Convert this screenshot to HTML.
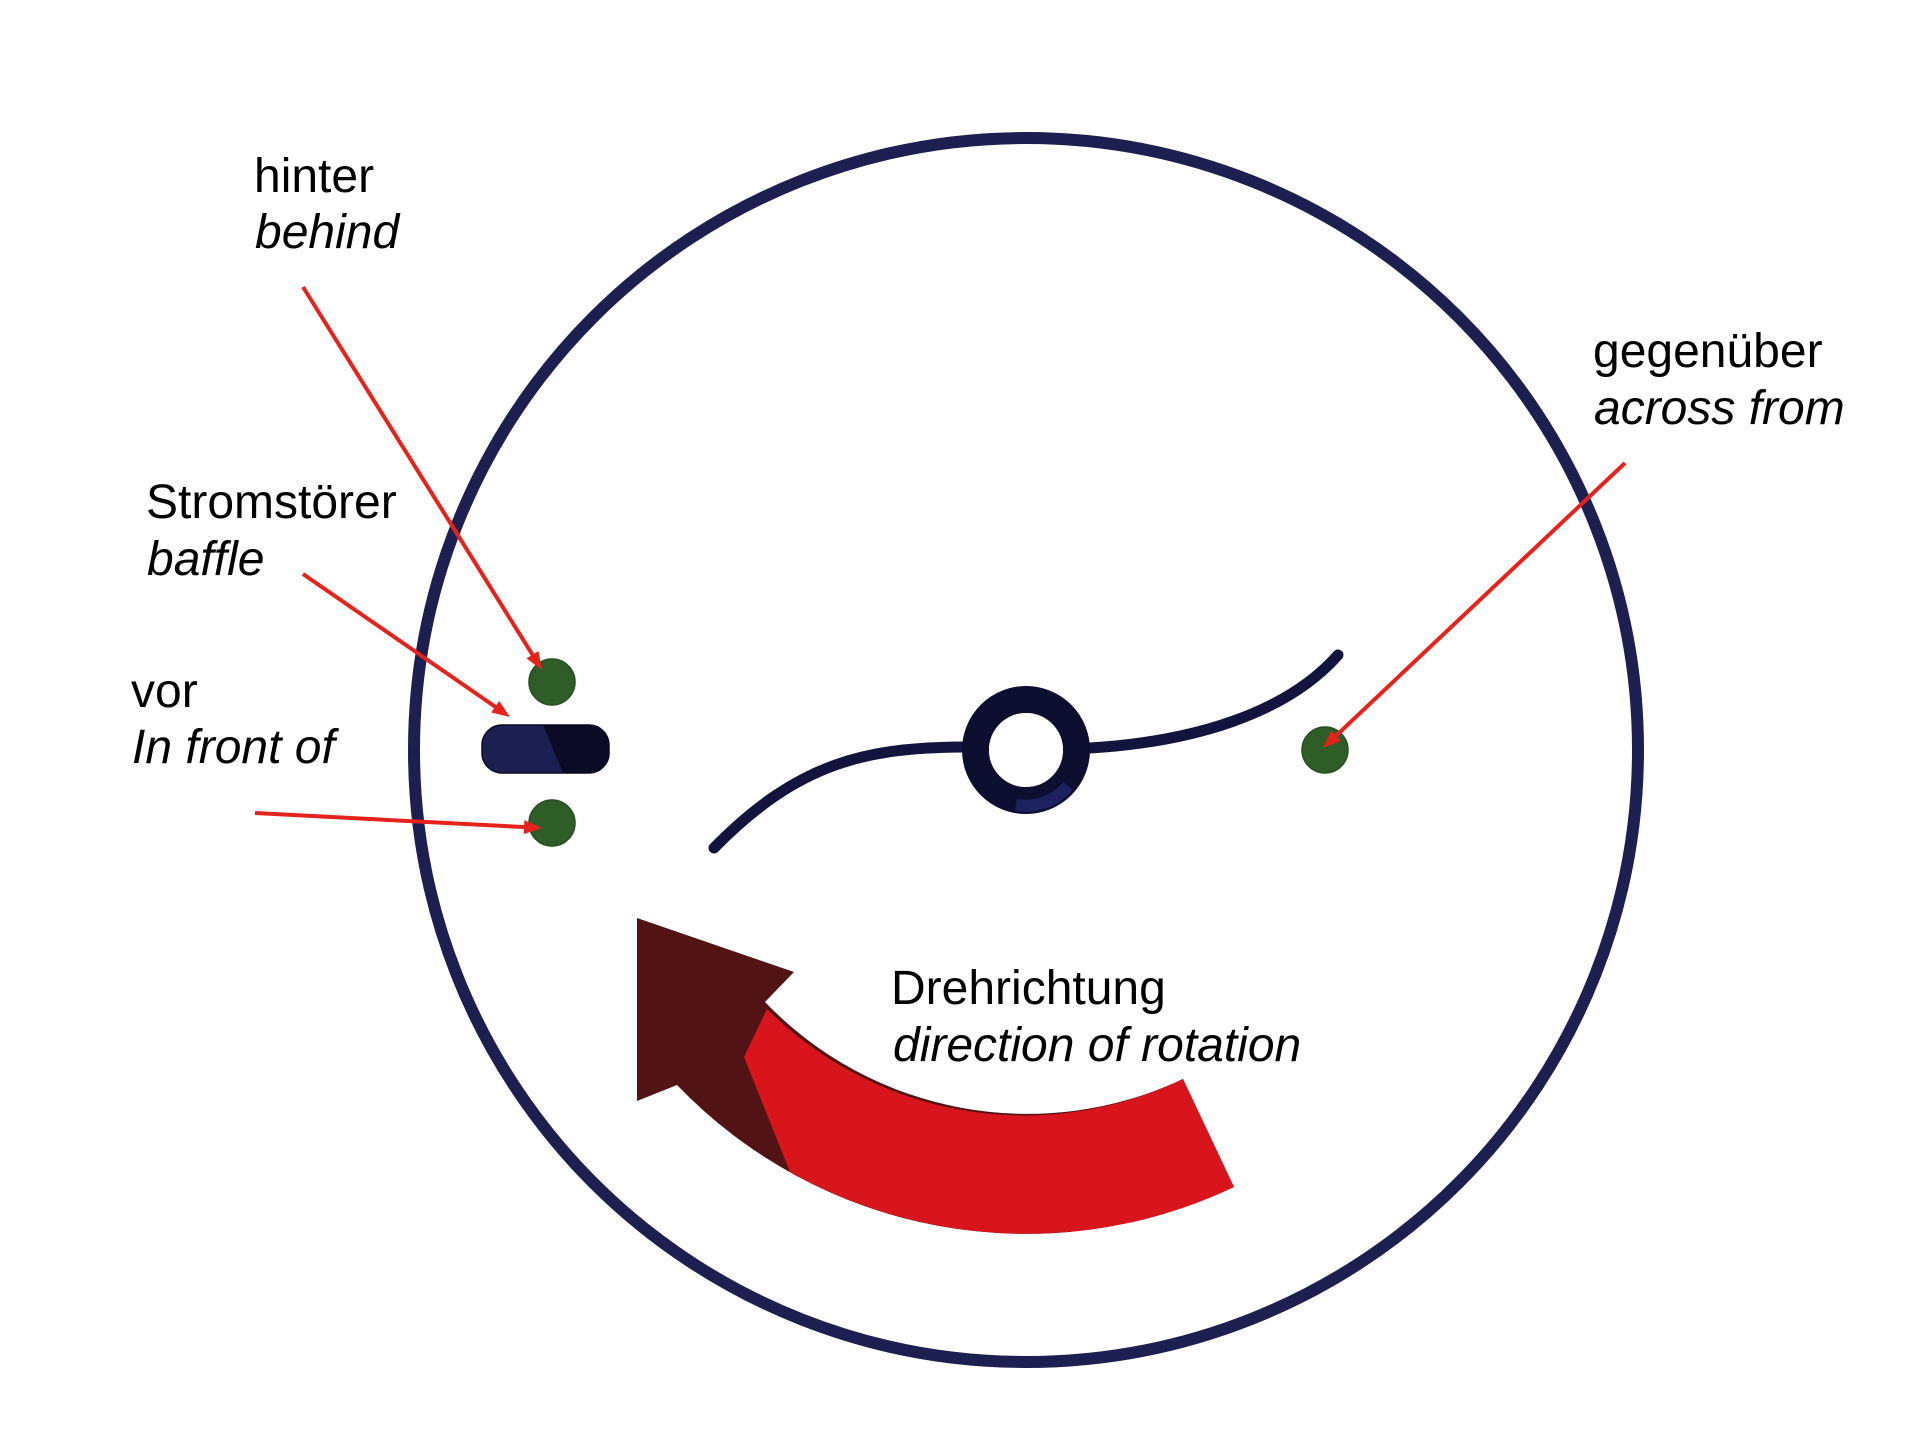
<!DOCTYPE html>
<html>
<head>
<meta charset="utf-8">
<style>
  html,body{margin:0;padding:0;background:#fff;}
  svg{display:block;}
  text{font-family:"Liberation Sans", Arial, sans-serif;font-size:48px;fill:#000;}
  .i{font-style:italic;}
</style>
</head>
<body>
<svg width="1920" height="1435" viewBox="0 0 1920 1435" xmlns="http://www.w3.org/2000/svg">
  <rect width="1920" height="1435" fill="#fff"/>

  <!-- outer vessel -->
  <circle cx="1026" cy="750" r="612" fill="none" stroke="#1c1f50" stroke-width="12"/>

  <!-- rotation arrow -->
  <path d="M 637 918 L 794 972 L 765 1002 A 364 364 0 0 0 1183 1079 L 1234 1187 A 484 484 0 0 1 677 1085 L 637 1101 Z" fill="#521314"/>
  <path d="M 767 1009 A 364 364 0 0 0 1183 1079 L 1234 1187 A 484 484 0 0 1 790 1172 L 744 1057 Z" fill="#d8151c"/>

  <!-- impeller arms -->
  <path d="M 962 747 C 870 748 800 760 714 848" fill="none" stroke="#13143e" stroke-width="11" stroke-linecap="round"/>
  <path d="M 1090 748 C 1190 742 1285 715 1338 655" fill="none" stroke="#13143e" stroke-width="11" stroke-linecap="round"/>

  <!-- hub ring -->
  <circle cx="1026" cy="750" r="50.5" fill="none" stroke="#0d0e30" stroke-width="27"/>
  <path d="M 1068 786 A 56 56 0 0 1 1016 805" fill="none" stroke="#242870" stroke-width="12" opacity="0.75"/>
  <circle cx="1026" cy="750" r="37" fill="#fff"/>

  <!-- baffle -->
  <defs>
    <clipPath id="bc"><rect x="482" y="725" width="127" height="48" rx="20" ry="20"/></clipPath>
  </defs>
  <rect x="482" y="725" width="127" height="48" rx="20" ry="20" fill="#1c2050"/>
  <polygon points="543,725 615,725 615,773 563,773" fill="#0b0b26" clip-path="url(#bc)"/>
  <rect x="482" y="725" width="127" height="48" rx="20" ry="20" fill="none" stroke="#0a0a22" stroke-width="1.5"/>

  <!-- measuring points -->
  <circle cx="552" cy="682" r="23" fill="#2e5d27" stroke="#264f20" stroke-width="1.5"/>
  <circle cx="552" cy="823" r="23" fill="#2e5d27" stroke="#264f20" stroke-width="1.5"/>
  <circle cx="1325" cy="750" r="23" fill="#2e5d27" stroke="#264f20" stroke-width="1.5"/>

  <!-- red leader lines -->
  <g stroke="#e5231c" stroke-width="4" fill="none">
    <line x1="303" y1="287" x2="534.6" y2="658.1"/>
    <line x1="303" y1="574" x2="498.5" y2="709.0"/>
    <line x1="255" y1="813" x2="528.0" y2="827.3"/>
    <line x1="1625" y1="463" x2="1333.2" y2="738.4"/>
  </g>
  <g fill="#e5231c">
    <polygon points="542,670 526.5,658.4 538.4,651.0"/>
    <polygon points="510,717 491.2,712.5 499.2,701.0"/>
    <polygon points="542,828 523.7,834.1 524.4,820.1"/>
    <polygon points="1323,748 1331.3,730.6 1340.9,740.7"/>
  </g>

  <!-- labels -->
  <text x="254" y="192">hinter</text>
  <text x="255" y="248" class="i">behind</text>

  <text x="146" y="518">Stromstörer</text>
  <text x="147" y="575" class="i">baffle</text>

  <text x="131" y="707">vor</text>
  <text x="132" y="763" class="i">In front of</text>

  <text x="1593" y="367">gegenüber</text>
  <text x="1594" y="424" class="i">across from</text>

  <text x="891" y="1004">Drehrichtung</text>
  <text x="893" y="1061" class="i">direction of rotation</text>
</svg>
</body>
</html>
